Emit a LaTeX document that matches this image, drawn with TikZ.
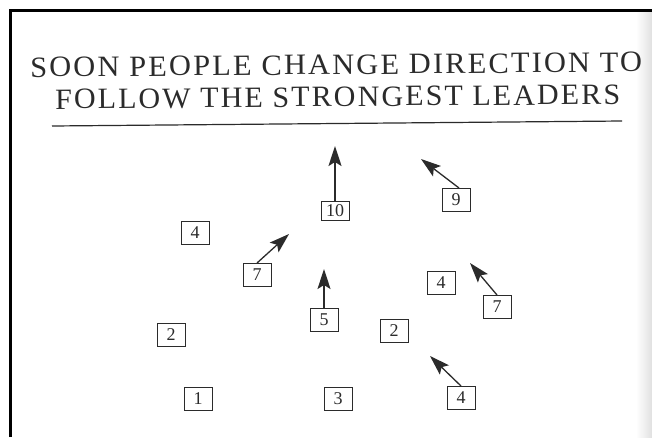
\documentclass[tikz,border=0pt]{standalone}
\usepackage{fontspec}
\setmainfont{Liberation Serif}
\newfontfamily\titlefont[LetterSpace=7]{Liberation Serif}
\usetikzlibrary{arrows.meta}
\definecolor{ink}{HTML}{2B2B2B}
\tikzset{
  nb/.style={draw=ink, line width=1pt, minimum width=28pt, minimum height=23pt, inner sep=0pt, font=\fontsize{18}{18}\selectfont, text=ink},
  arr/.style={draw=ink, line width=1.3pt, -{Stealth[length=20pt,width=13pt,inset=4pt]}},
  frame/.style={line width=3pt, black}
}
\begin{document}
\begin{tikzpicture}[x=1pt,y=-1pt]
\useasboundingbox (0,0) rectangle (652,437);
\fill[white] (0,0) rectangle (652,437);
\shade[left color=white, right color=black!12] (636,12) rectangle (652,437);
% frame
\draw[frame] (10,437) -- (10,10) -- (652,10);
% title
\node[anchor=west, inner sep=0pt, rotate=0.5, text=ink] (t1) at (30,67.5)
  {\resizebox{612pt}{19.5pt}{\titlefont\fontsize{28}{28}\selectfont SOON PEOPLE CHANGE DIRECTION TO}};
\node[anchor=west, inner sep=0pt, rotate=0.5, text=ink] (t2) at (55,99.5)
  {\resizebox{565pt}{19.5pt}{\titlefont\fontsize{28}{28}\selectfont FOLLOW THE STRONGEST LEADERS}};
\coordinate (r1) at (52,126);
\coordinate (r2) at (622,121);
\draw[ink, line width=1.2pt] (r1) -- (r2);
% boxes
\node[nb, minimum height=19pt] (b10) at (335,211) {10};
\node[nb] (b9) at (456,200) {9};
\node[nb] (b4a) at (195,233) {4};
\node[nb] (b7a) at (257,275) {7};
\node[nb] (b5) at (324,320) {5};
\node[nb] (b4b) at (441,283) {4};
\node[nb] (b7b) at (497,307) {7};
\node[nb] (b2a) at (171,335) {2};
\node[nb] (b2b) at (394,331) {2};
\node[nb] (b4c) at (461,398) {4};
\node[nb] (b1) at (198,399) {1};
\node[nb] (b3) at (338,399) {3};
% arrow tips
\coordinate (p10) at (335,146);
\coordinate (p9) at (421,159);
\coordinate (p7a) at (289,234);
\coordinate (p5) at (324,269);
\coordinate (p7b) at (470,263);
\coordinate (p4c) at (430,356);
\draw[arr, line width=1.8pt] (b10.north) -- (p10);
\draw[arr] ([xshift=3pt]b9.north) -- (p9);
\draw[arr] (b7a.north) -- (p7a);
\draw[arr] (b5.north) -- (p5);
\draw[arr] (b7b.north) -- (p7b);
\draw[arr] (b4c.north) -- (p4c);
\end{tikzpicture}
\end{document}
